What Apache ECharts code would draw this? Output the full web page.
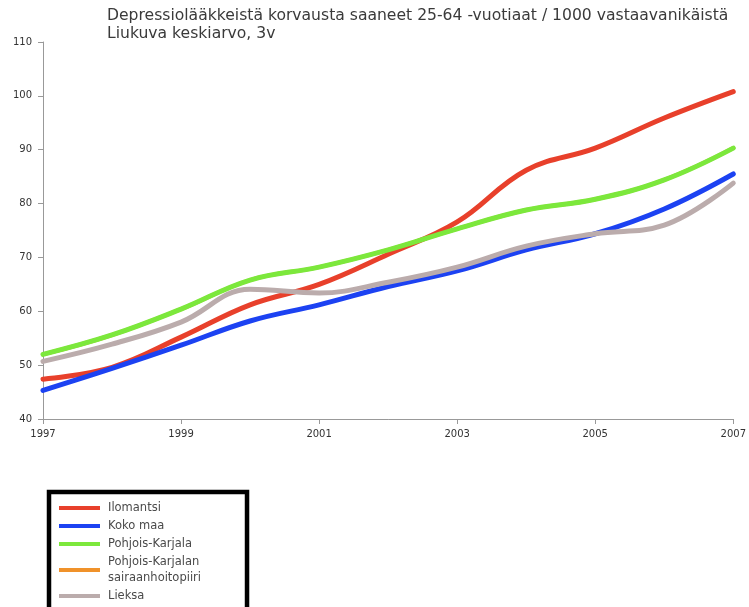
<!DOCTYPE html>
<html><head><meta charset="utf-8">
<script src="https://cdn.jsdelivr.net/npm/echarts@6/dist/echarts.min.js"></script>
<style>html,body{margin:0;padding:0;background:#fff}#c{width:749px;height:607px}</style>
</head><body><div id="c"></div>
<script>
const years = ['1997','1998','1999','2000','2001','2002','2003','2004','2005','2006','2007'];
const ilomantsi = [47.4, 49.6, 55.2, 61.2, 65.0, 70.6, 76.6, 86.2, 90.3, 95.9, 100.8];
const kokoMaa = [45.3, 49.4, 53.7, 58.2, 61.2, 64.6, 67.5, 71.4, 74.4, 79.0, 85.5];
const pohjoisKarjala = [52.0, 55.6, 60.4, 65.8, 68.2, 71.4, 75.3, 78.8, 80.8, 84.4, 90.3];
const pkSairaanhoitopiiri = [52.0, 55.6, 60.4, 65.8, 68.2, 71.4, 75.3, 78.8, 80.8, 84.4, 90.3];
const lieksa = [50.7, 53.9, 58.0, 64.1, 63.4, 65.4, 68.2, 72.1, 74.4, 76.0, 83.8];
const yTicks = {min: 40, max: 110, step: 10};
const titleLines = ['Depressiolääkkeistä korvausta saaneet 25-64 -vuotiaat / 1000 vastaavanikäistä', 'Liukuva keskiarvo, 3v'];
const names = ['Ilomantsi', 'Koko maa', 'Pohjois-Karjala', 'Pohjois-Karjalan\nsairaanhoitopiiri', 'Lieksa'];

const chart = echarts.init(document.getElementById('c'));
const font = '"DejaVu Sans", sans-serif';
function line(name, data, color, width, z) {
  return {name, type: 'line', data, smooth: 0.4, symbol: 'none', z,
    itemStyle: {color}, lineStyle: {color, width, cap: 'round', join: 'round'}};
}
chart.setOption({
  animation: false,
  textStyle: {fontFamily: font},
  title: {text: titleLines.join('\n'), left: 107, top: 7, padding: 0,
    textStyle: {fontFamily: font, fontSize: 15.6, fontWeight: 'normal', color: '#3a3a3a', lineHeight: 18}},
  grid: {left: 43, right: 13, top: 42, bottom: 188},
  legend: {
    orient: 'vertical', left: 49, top: 492, height: 200, data: names,
    icon: 'rect', itemWidth: 41, itemHeight: 4, itemGap: 2,
    borderColor: '#000', borderWidth: 4.5, padding: [8, 46, 20, 10],
    textStyle: {fontFamily: font, fontSize: 11.5, color: '#4a4a4a', lineHeight: 16, padding: [0, 0, 0, 3]}
  },
  xAxis: {type: 'category', data: years, boundaryGap: false,
    axisLine: {lineStyle: {color: '#999'}},
    axisTick: {interval: 1, length: 5, lineStyle: {color: '#999'}},
    axisLabel: {interval: 1, color: '#333', fontSize: 10, margin: 10}},
  yAxis: {type: 'value', min: yTicks.min, max: yTicks.max, interval: yTicks.step,
    axisLine: {show: true, lineStyle: {color: '#999'}},
    axisTick: {show: true, length: 5, lineStyle: {color: '#999'}},
    splitLine: {show: false},
    axisLabel: {color: '#333', fontSize: 10, margin: 11}},
  series: [
    line(names[3], pkSairaanhoitopiiri, '#f0922a', 4, 2),
    line(names[0], ilomantsi, '#e8402b', 5, 3),
    line(names[1], kokoMaa, '#1c42f2', 5, 4),
    line(names[4], lieksa, '#bbacac', 5, 5),
    line(names[2], pohjoisKarjala, '#7ce83c', 5, 6)
  ]
});
</script></body></html>
